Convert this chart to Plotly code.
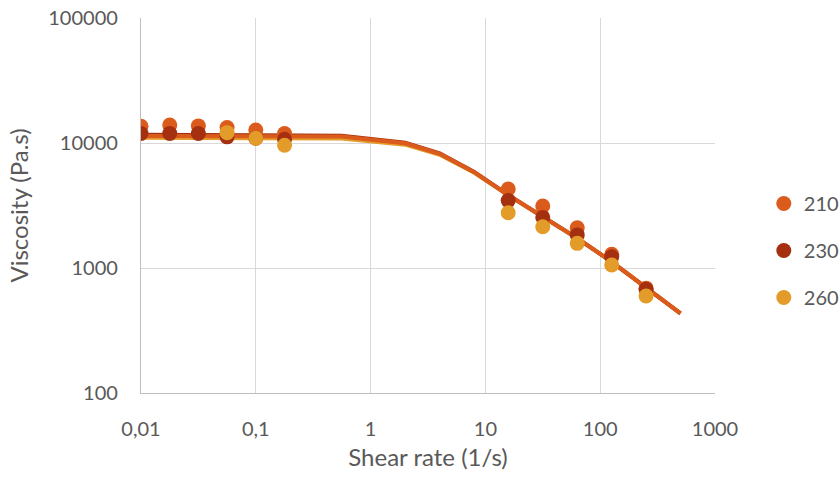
import plotly.graph_objects as go

# Measured data (shear rate 1/s, viscosity Pa.s)
x_210 = [0.01, 0.0178, 0.0316, 0.0562, 0.1, 0.178, 15.8, 31.6, 63.1, 126, 251]
y_210 = [13600, 13900, 13700, 13300, 12700, 11900, 4280, 3130, 2100, 1290, 690]

x_230 = [0.01, 0.0178, 0.0316, 0.0562, 0.1, 0.178, 15.8, 31.6, 63.1, 126, 251]
y_230 = [11900, 11900, 11900, 11200, 10900, 10700, 3460, 2540, 1840, 1230, 675]

x_260 = [0.0562, 0.1, 0.178, 15.8, 31.6, 63.1, 126, 251]
y_260 = [12100, 10900, 9600, 2770, 2140, 1575, 1057, 597]

# Model fit curves
x_fit = [0.01, 0.1, 0.56, 2, 4, 8, 15.8, 31.6, 63.1, 126, 251, 500]
fit_210 = [11400, 11350, 11250, 9950, 8200, 5850, 3840, 2570, 1730, 1120, 690, 434]
fit_230 = [11650, 11600, 11450, 10050, 8250, 5870, 3850, 2575, 1733, 1121, 691, 434]
fit_260 = [11000, 10950, 10850, 9700, 8050, 5780, 3810, 2560, 1725, 1118, 689, 433]

x_ticks = [0.01, 0.1, 1, 10, 100, 1000]
x_ticktext = ["0,01", "0,1", "1", "10", "100", "1000"]
y_ticks = [100, 1000, 10000, 100000]
y_ticktext = ["100", "1000", "10000", "100000"]

c210 = "#DA5B1B"
c230 = "#A5300F"
c260 = "#E39B29"

fig = go.Figure()

# fit lines (yellow, dark red beneath, orange on top)
fig.add_trace(go.Scatter(x=x_fit, y=fit_260, mode="lines", line=dict(color=c260, width=4),
                         showlegend=False, hoverinfo="skip"))
fig.add_trace(go.Scatter(x=x_fit, y=fit_230, mode="lines", line=dict(color=c230, width=4),
                         showlegend=False, hoverinfo="skip"))
fig.add_trace(go.Scatter(x=x_fit, y=fit_210, mode="lines", line=dict(color=c210, width=4),
                         showlegend=False, hoverinfo="skip"))

fig.add_trace(go.Scatter(x=x_210, y=y_210, mode="markers", name="210",
                         marker=dict(color=c210, size=15), legendgroup="a"))
fig.add_trace(go.Scatter(x=x_230, y=y_230, mode="markers", name="230",
                         marker=dict(color=c230, size=15), legendgroup="b"))
fig.add_trace(go.Scatter(x=x_260, y=y_260, mode="markers", name="260",
                         marker=dict(color=c260, size=15), legendgroup="c"))

font = "Lato, Carlito, 'Open Sans', sans-serif"
fig.update_layout(
    width=840, height=479,
    margin=dict(l=141, r=125, t=18, b=86, autoexpand=False),
    paper_bgcolor="white", plot_bgcolor="white",
    font=dict(family=font, size=20, color="#595959"),
    legend=dict(x=1.085, xanchor="left", y=0.38, yanchor="middle",
                traceorder="grouped", tracegroupgap=18,
                font=dict(size=20, color="#595959"), itemwidth=30),
    xaxis=dict(type="log", range=[-2, 3], tickvals=x_ticks, ticktext=x_ticktext,
               showgrid=True, gridcolor="#D9D9D9", gridwidth=1.3,
               showline=True, linecolor="#BFBFBF", linewidth=1.3,
               zeroline=False, ticks="", ticklen=0, ticklabelstandoff=18,
               automargin=False, tickfont=dict(size=20),
               title=dict(text="Shear rate (1/s)", font=dict(size=24, color="#595959"), standoff=10)),
    yaxis=dict(type="log", range=[2, 5], tickvals=y_ticks, ticktext=y_ticktext,
               showgrid=True, gridcolor="#D9D9D9", gridwidth=1.3,
               showline=True, linecolor="#BFBFBF", linewidth=1.3,
               zeroline=False, ticks="", ticklen=0, ticklabelstandoff=18,
               automargin=False, tickfont=dict(size=20),
               title=dict(text="Viscosity (Pa.s)", font=dict(size=24, color="#595959"), standoff=12)),
)

fig.write_html("out.html")
